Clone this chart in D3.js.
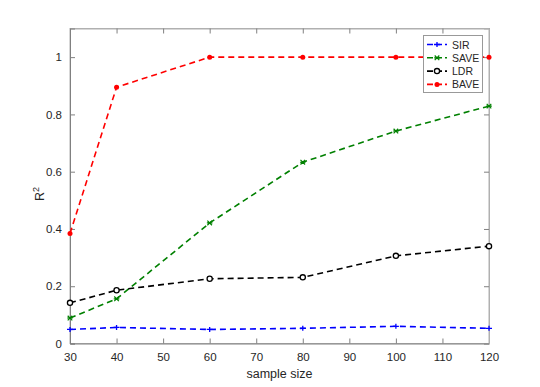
<!DOCTYPE html>
<html><head><meta charset="utf-8">
<script src="https://cdn.jsdelivr.net/npm/d3@7"></script>
<style>body{margin:0;background:#fff}text{font-family:"Liberation Sans",Arial,sans-serif}</style>
</head><body><svg id="c" width="540" height="387"></svg>
<script>
const sampleSizes = [30, 40, 60, 80, 100, 120];
const sirValues  = [0.049, 0.056, 0.049, 0.053, 0.060, 0.053];
const saveValues = [0.089, 0.156, 0.421, 0.633, 0.742, 0.829];
const ldrValues  = [0.142, 0.186, 0.226, 0.231, 0.306, 0.340];
const baveValues = [0.384, 0.895, 1.0, 1.0, 1.0, 1.0];
const xTicks = [30, 40, 50, 60, 70, 80, 90, 100, 110, 120];
const yTicks = [0, 0.2, 0.4, 0.6, 0.8, 1];
const seriesNames = ["SIR", "SAVE", "LDR", "BAVE"];

const series = [
  {name: seriesNames[0], values: sirValues, color: "#0000ff", marker: "plus"},
  {name: seriesNames[1], values: saveValues, color: "#008000", marker: "star"},
  {name: seriesNames[2], values: ldrValues, color: "#000000", marker: "circle"},
  {name: seriesNames[3], values: baveValues, color: "#ff0000", marker: "dot"}
];

const svg = d3.select("#c");
const L = 70, R = 489, T = 28.5, B = 343.5;
const x = d3.scaleLinear().domain([30, 120]).range([L, R]);
const y = d3.scaleLinear().domain([0, 1.1]).range([B, T]);
const axisColor = "#808080";

svg.append("rect").attr("x", L).attr("y", T).attr("width", R - L).attr("height", B - T)
  .attr("fill", "none").attr("stroke", "#b0b0b0").attr("stroke-width", 1);

const xAxis = svg.append("g").attr("transform", `translate(0,${B})`)
  .call(d3.axisBottom(x).tickValues(xTicks).tickSize(-5).tickPadding(9).tickFormat(d3.format("d")));
const xTop = svg.append("g").attr("transform", `translate(0,${T})`)
  .call(d3.axisTop(x).tickValues(xTicks).tickSize(-5).tickFormat(""));
const yAxis = svg.append("g").attr("transform", `translate(${L},0)`)
  .call(d3.axisLeft(y).tickValues(yTicks).tickSize(-5).tickPadding(8).tickFormat(d => d === 0 ? "0" : d === 1 ? "1" : d3.format(".1f")(d)));
const yRight = svg.append("g").attr("transform", `translate(${R},0)`)
  .call(d3.axisRight(y).tickValues(yTicks).tickSize(-5).tickFormat(""));
[xAxis, xTop, yAxis, yRight].forEach(g => {
  g.select(".domain").attr("stroke", axisColor).attr("stroke-width", 1);
  g.selectAll(".tick line").attr("stroke", axisColor);
  g.selectAll("text").attr("fill", "#262626").style("font-size", "11.5px").style("font-family", '"Liberation Sans",Arial,sans-serif');
});
xTop.select(".domain").attr("stroke", "#b0b0b0");
yRight.select(".domain").attr("stroke", "#b0b0b0");

svg.append("text").attr("x", (L + R) / 2).attr("y", 378).attr("text-anchor", "middle")
  .attr("fill", "#262626").style("font-size", "12.5px").text("sample size");
const yl = svg.append("text").attr("transform", `translate(44,${(T + B) / 2 + 8}) rotate(-90)`)
  .attr("text-anchor", "middle").attr("fill", "#262626").style("font-size", "12.5px");
yl.append("tspan").text("R");
yl.append("tspan").attr("dy", -5).style("font-size", "9px").text("2");

function drawMarker(g, type, cx, cy, color) {
  if (type === "plus") {
    g.append("path").attr("d", `M${cx-3},${cy}H${cx+3}M${cx},${cy-2.5}V${cy+2.5}`)
      .attr("stroke", color).attr("stroke-width", 1.3).attr("fill", "none");
  } else if (type === "star") {
    const r = 2.3;
    g.append("path").attr("d", `M${cx-r},${cy-r}L${cx+r},${cy+r}M${cx-r},${cy+r}L${cx+r},${cy-r}M${cx-r-0.5},${cy}H${cx+r+0.5}`)
      .attr("stroke", color).attr("stroke-width", 1.2).attr("fill", "none");
  } else if (type === "circle") {
    g.append("circle").attr("cx", cx).attr("cy", cy).attr("r", 2.6)
      .attr("fill", "#fff").attr("stroke", color).attr("stroke-width", 1.3);
  } else {
    g.append("circle").attr("cx", cx).attr("cy", cy).attr("r", 2.5).attr("fill", color);
  }
}

const line = d3.line().x(d => x(d[0])).y(d => y(d[1]));
series.forEach(s => {
  const pts = sampleSizes.map((v, i) => [v, s.values[i]]);
  svg.append("path").datum(pts).attr("d", line).attr("fill", "none")
    .attr("stroke", s.color).attr("stroke-width", 1.6).attr("stroke-dasharray", "6,4");
  const g = svg.append("g");
  pts.forEach(p => drawMarker(g, s.marker, x(p[0]), y(p[1]), s.color));
});

const lg = svg.append("g");
lg.append("rect").attr("x", 423.5).attr("y", 35.5).attr("width", 59).attr("height", 57)
  .attr("fill", "#fff").attr("stroke", "#999").attr("stroke-width", 1);
series.forEach((s, i) => {
  const yy = 44.5 + i * 13.3;
  lg.append("path").attr("d", `M427,${yy}H447`).attr("stroke", s.color).attr("stroke-width", 1.6)
    .attr("stroke-dasharray", "6,3");
  drawMarker(lg, s.marker, 437, yy, s.color);
  lg.append("text").attr("x", 452).attr("y", yy + 4).attr("fill", "#262626")
    .style("font-size", "10.5px").text(s.name);
});
</script></body></html>
